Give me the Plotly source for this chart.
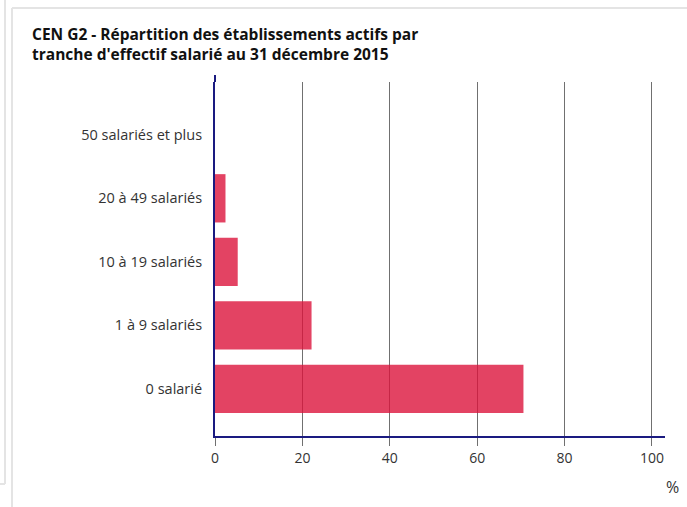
import plotly.graph_objects as go

categories = ["0 salarié", "1 à 9 salariés", "10 à 19 salariés", "20 à 49 salariés", "50 salariés et plus"]
values = [70.6, 22.1, 5.2, 2.4, 0.0]
x_ticks = [0, 20, 40, 60, 80, 100]
title_lines = ["CEN G2 - Répartition des établissements actifs par",
               "tranche d'effectif salarié au 31 décembre 2015"]

W, H = 687, 507
L, R, T, B = 215, 665, 82, 436

def px(x):
    return (x - L) / (R - L)

def py(y):
    return (B - y) / (B - T)

fig = go.Figure(go.Bar(
    x=values, y=categories, orientation="h",
    marker=dict(color="rgba(220,20,60,0.8)", line=dict(width=0)),
    width=0.76, hoverinfo="x+y",
))

border = "#e4e4e4"
shapes = [
    dict(type="line", xref="paper", yref="paper", x0=px(5), x1=px(5), y0=py(-2), y1=py(484), line=dict(color=border, width=2)),
    dict(type="line", xref="paper", yref="paper", x0=px(-2), x1=px(5), y0=py(484), y1=py(484), line=dict(color=border, width=2)),
    dict(type="line", xref="paper", yref="paper", x0=px(12), x1=px(12), y0=py(8), y1=py(510), line=dict(color=border, width=2)),
    dict(type="line", xref="paper", yref="paper", x0=px(12), x1=px(690), y0=py(8), y1=py(8), line=dict(color=border, width=2)),
    dict(type="line", xref="paper", yref="paper", x0=0, x1=0, y0=1, y1=py(75), line=dict(color="#1a1a80", width=2)),
]

annotations = [
    dict(text="%", xref="paper", yref="paper", x=px(672), y=py(487),
         xanchor="center", yanchor="middle", showarrow=False,
         font=dict(size=16, color="#333333")),
    dict(text="<b>" + "<br>".join(title_lines) + "</b>", xref="paper", yref="paper",
         x=px(30), y=py(44), xanchor="left", yanchor="middle", align="left",
         showarrow=False, font=dict(family="Open Sans", size=15.5, color="#111111")),
]

fig.update_layout(
    width=W, height=H,
    margin=dict(l=L, r=W - R, t=T, b=H - B, pad=0),
    paper_bgcolor="white", plot_bgcolor="white",
    font=dict(family="Open Sans", size=13, color="#333333"),
    xaxis=dict(
        range=[0, 103], tickvals=x_ticks, ticktext=[str(v) for v in x_ticks],
        showgrid=True, gridcolor="#707070", gridwidth=1,
        zeroline=False, showline=True, linecolor="#1a1a80", linewidth=2,
        ticks="outside", ticklen=8, tickcolor="#707070", tickwidth=1,
        tickfont=dict(size=14, color="#333333"),
        fixedrange=True,
    ),
    yaxis=dict(
        categoryorder="array", categoryarray=categories,
        range=[-0.74, 4.83],
        showgrid=False, zeroline=False, showline=True, linecolor="#1a1a80", linewidth=2,
        ticks="", ticklabelstandoff=8,
        tickfont=dict(size=14.5, color="#333333"),
        fixedrange=True,
    ),
    shapes=shapes,
    annotations=annotations,
    showlegend=False,
)

fig.write_html("out.html", config={"displayModeBar": False},
               post_script="document.body.style.margin='0';document.body.style.overflow='hidden';")
